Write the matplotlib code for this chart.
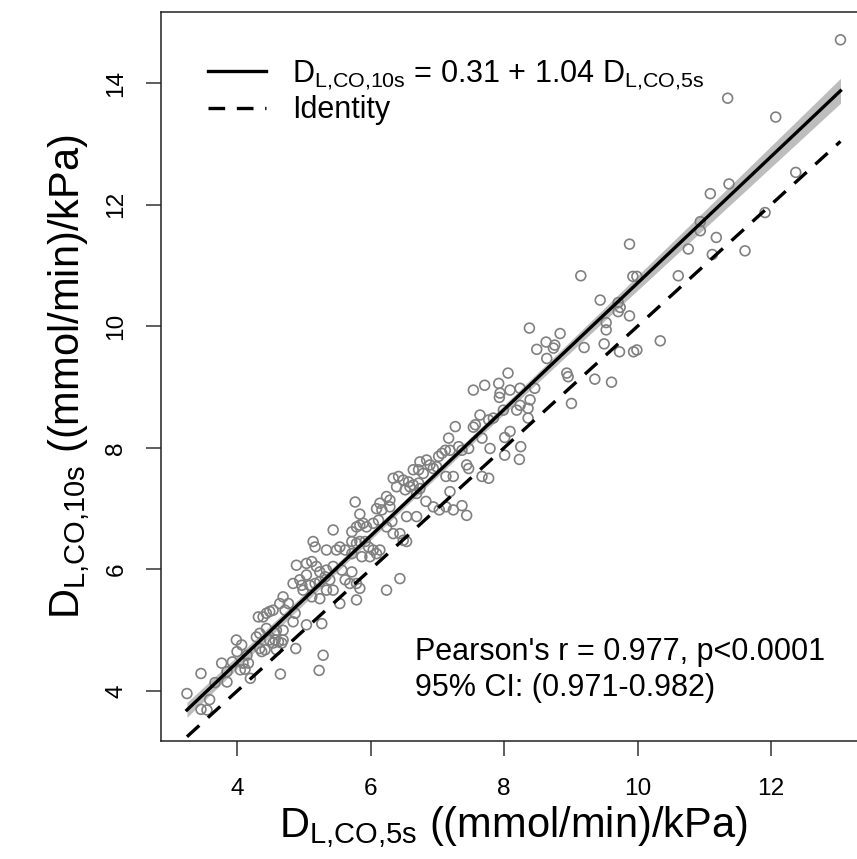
import matplotlib
matplotlib.use("Agg")
import matplotlib.pyplot as plt
import numpy as np

plt.rcParams["font.family"] = "Liberation Sans"
plt.rcParams["mathtext.fontset"] = "custom"
plt.rcParams["mathtext.rm"] = "Liberation Sans"
plt.rcParams["mathtext.it"] = "Liberation Sans:italic"

# DLCO, 5 s breath hold vs 10 s breath hold ((mmol/min)/kPa)
dlco_5s = np.array([
    7.54, 7.71, 7.92, 7.94, 7.93, 8.06, 8.09, 7.64, 7.84, 7.57, 7.54, 7.77, 7.99, 7.67, 7.27, 8.01, 8.09,
    7.17, 7.12, 7.07, 7.02, 7.19, 7.32, 7.37, 7.47, 7.79, 8.01, 6.74, 6.84, 6.64, 6.72, 6.79, 6.89, 6.94,
    6.99, 6.34, 6.42, 6.49, 6.57, 6.64, 6.72, 7.13, 7.24, 7.44, 7.47, 7.67, 7.77, 6.39, 6.52, 6.59, 6.69,
    6.74, 6.83, 6.94, 7.03, 7.13, 7.24, 7.37, 7.44, 7.19, 6.24, 6.29, 6.14, 6.09, 6.17, 6.29, 5.77, 5.84,
    6.54, 6.69, 5.44, 5.72, 5.79, 5.84, 5.89, 5.94, 6.04, 6.12, 6.24, 6.34, 6.44, 6.49, 6.54, 6.32, 5.72,
    5.79, 5.84, 5.92, 5.97, 6.04, 5.14, 5.17, 5.34, 5.49, 5.54, 5.62, 5.72, 5.87, 5.99, 6.09, 6.14, 4.89,
    5.04, 5.12, 5.19, 5.24, 5.34, 5.44, 5.57, 5.72, 5.62, 5.69, 5.04, 4.94, 4.84, 4.97, 5.09, 5.17, 5.24,
    5.32, 5.39, 5.44, 5.34, 5.79, 5.84, 6.24, 6.44, 4.99, 5.12, 5.24, 5.54, 5.79, 4.69, 4.77, 4.64, 4.72,
    4.54, 4.49, 4.44, 4.39, 4.32, 4.87, 5.04, 5.27, 4.84, 4.44, 4.59, 4.57, 4.69, 4.29, 4.34, 4.49, 4.57,
    4.62, 4.69, 4.54, 4.42, 4.37, 4.34, 4.15, 3.99, 4.07, 4.00, 3.93, 4.09, 4.17, 4.12, 4.88, 4.59, 4.67,
    5.29, 5.23, 4.65, 3.85, 3.85, 3.67, 4.05, 4.20, 3.46, 3.77, 3.25, 3.59, 3.46, 3.55,
    8.24, 8.46, 8.39, 8.24, 8.19, 8.36, 8.36, 8.94, 8.96, 9.36, 9.61, 9.01, 8.25, 8.23,
    13.04, 11.35, 12.07, 12.37, 11.91, 11.37, 11.09, 10.94, 10.94, 11.18, 10.76, 11.12, 11.61, 9.88,
    9.15, 9.93, 9.99, 10.61, 9.44, 9.71, 9.74, 9.71, 9.88, 9.53, 9.53, 8.38, 8.84, 8.63, 8.49, 8.74,
    8.76, 9.20, 9.50, 9.73, 9.94, 9.99, 10.34, 8.64,
])
dlco_10s = np.array([
    8.95, 9.03, 9.06, 8.90, 8.83, 9.23, 8.95, 8.54, 8.49, 8.38, 8.34, 8.46, 8.62, 8.16, 8.35, 8.17, 8.27,
    8.16, 7.96, 7.91, 7.86, 7.96, 8.02, 7.96, 7.99, 7.99, 7.88, 7.77, 7.80, 7.64, 7.64, 7.58, 7.72, 7.66,
    7.69, 7.50, 7.53, 7.47, 7.44, 7.39, 7.42, 7.53, 7.53, 7.72, 7.66, 7.53, 7.50, 7.36, 7.31, 7.36, 7.25,
    7.33, 7.12, 7.03, 6.98, 7.03, 6.98, 7.05, 6.89, 7.28, 7.20, 7.14, 7.09, 7.00, 6.98, 7.03, 7.11, 6.91,
    6.87, 6.87, 6.65, 6.62, 6.70, 6.73, 6.76, 6.70, 6.76, 6.81, 6.70, 6.59, 6.59, 6.48, 6.46, 6.79, 6.46,
    6.43, 6.46, 6.46, 6.37, 6.32, 6.46, 6.37, 6.32, 6.32, 6.37, 6.32, 6.26, 6.21, 6.21, 6.26, 6.32, 6.07,
    6.10, 6.13, 6.05, 5.96, 5.99, 6.05, 5.99, 5.96, 5.83, 5.77, 5.91, 5.83, 5.77, 5.74, 5.74, 5.77, 5.80,
    5.88, 5.83, 5.66, 5.66, 5.77, 5.69, 5.66, 5.85, 5.66, 5.55, 5.52, 5.44, 5.50, 5.55, 5.44, 5.44, 5.33,
    5.33, 5.31, 5.28, 5.22, 5.22, 5.28, 5.09, 5.11, 5.14, 5.03, 5.00, 4.95, 5.00, 4.89, 4.95, 4.84, 4.84,
    4.81, 4.84, 4.79, 4.68, 4.65, 4.70, 4.59, 4.84, 4.76, 4.65, 4.48, 4.46, 4.46, 4.36, 4.70, 4.68, 4.79,
    4.59, 4.34, 4.28, 4.32, 4.15, 4.14, 4.35, 4.21, 4.29, 4.46, 3.96, 3.86, 3.70, 3.69,
    8.98, 8.98, 8.79, 8.70, 8.62, 8.65, 8.49, 9.23, 9.17, 9.13, 9.08, 8.73, 8.02, 7.81,
    14.71, 13.75, 13.44, 12.53, 11.87, 12.34, 12.18, 11.72, 11.57, 11.46, 11.27, 11.18, 11.24, 11.35,
    10.83, 10.82, 10.82, 10.83, 10.43, 10.39, 10.31, 10.24, 10.17, 10.06, 9.94, 9.97, 9.88, 9.74, 9.62, 9.64,
    9.69, 9.65, 9.71, 9.58, 9.58, 9.61, 9.76, 9.47,
])

intercept, slope = 0.31, 1.04
x_ticks = [4, 6, 8, 10, 12]
y_ticks = [4, 6, 8, 10, 12, 14]
fit_label = r"$\mathrm{D}_{\mathrm{L{,}CO{,}10s}}$ = 0.31 + 1.04 $\mathrm{D}_{\mathrm{L{,}CO{,}5s}}$"
stats_lines = ["Pearson's r = 0.977, p<0.0001", "95% CI: (0.971-0.982)"]

fig = plt.figure(figsize=(8.57, 8.59), dpi=100)
ax = fig.add_axes([0.1873, 0.1374, 0.8238, 0.8481])

# regression line with 95% confidence band
xs = np.linspace(dlco_5s.min(), dlco_5s.max(), 200)
fit = intercept + slope * xs
resid = dlco_10s - (intercept + slope * dlco_5s)
n = len(dlco_5s)
s = np.sqrt(np.sum(resid ** 2) / (n - 2))
sxx = np.sum((dlco_5s - dlco_5s.mean()) ** 2)
se = s * np.sqrt(1 / n + (xs - dlco_5s.mean()) ** 2 / sxx)
ax.fill_between(xs, fit - 1.97 * se, fit + 1.97 * se, color="#bdbdbd", lw=0, zorder=1)

ax.scatter(dlco_5s, dlco_10s, s=50, facecolors="none", edgecolors="#808080", linewidths=1.2, zorder=2)
ax.plot(xs, fit, color="black", lw=2.4, zorder=3, label=fit_label)
lims = [dlco_5s.min(), dlco_5s.max()]
ax.plot(lims, lims, color="black", lw=2.4, ls=(0, (5, 3.5)), zorder=3, label="Identity")

ax.set_xlim(2.854, 13.43)
ax.set_ylim(3.18, 15.16)
ax.set_xticks(x_ticks)
ax.set_yticks(y_ticks)
ax.tick_params(direction="out", length=10.8, width=1.1, labelsize=17.6, color="#333333")
ax.tick_params(axis="x", pad=16)
ax.tick_params(axis="y", pad=13)
plt.setp(ax.get_yticklabels(), rotation=90, va="center")
for sp in ax.spines.values():
    sp.set_linewidth(1.1)
    sp.set_color("#222222")

ax.set_xlabel(r"$\mathrm{D}_{\mathrm{L{,}CO{,}5s}}$ ((mmol/min)/kPa)", fontsize=30, labelpad=3)
ax.set_ylabel(r"$\mathrm{D}_{\mathrm{L{,}CO{,}10s}}$ ((mmol/min)/kPa)", fontsize=30, labelpad=10)

ax.legend(loc="upper left", bbox_to_anchor=(0.0673, 0.937), frameon=False, fontsize=22,
          handlelength=1.9, handletextpad=0.85, labelspacing=0.12, borderpad=0, borderaxespad=0)

ax.text(0.3605, 0.122, stats_lines[0], transform=ax.transAxes, fontsize=22, va="center", ha="left")
ax.text(0.3605, 0.0727, stats_lines[1], transform=ax.transAxes, fontsize=22, va="center", ha="left")

fig.savefig("out.png", dpi=100)
